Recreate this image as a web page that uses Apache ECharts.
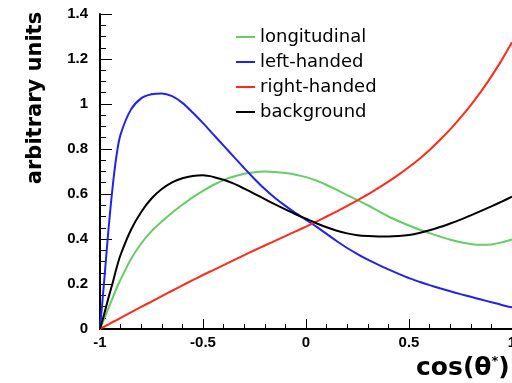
<!DOCTYPE html>
<html style="height: 100%">
<head>
  <meta charset="utf-8">
  <title>cos(theta*) distributions</title>
  <style type="text/css">
    body { margin: 0; background: #fff; }
    #container { width: 512px; height: 383px; }
  </style>
</head>
<body>
  <div id="container"></div>
  <script type="text/javascript" src="https://cdn.jsdelivr.net/npm/echarts@6/dist/echarts.min.js"></script>
  <script type="text/javascript">
    // cos(theta*) sample points (denser near -1 where curves rise fast)
    var cosTheta = [-1, -0.98, -0.96, -0.94, -0.92, -0.9, -0.85, -0.8, -0.75, -0.7, -0.65, -0.6, -0.55, -0.5,
      -0.45, -0.4, -0.35, -0.3, -0.25, -0.2, -0.15, -0.1, -0.05, 0,
      0.05, 0.1, 0.15, 0.2, 0.25, 0.3, 0.35, 0.4, 0.45, 0.5,
      0.55, 0.6, 0.65, 0.7, 0.75, 0.8, 0.85, 0.9, 0.95, 1];

    var longitudinal = [0, 0.045, 0.09, 0.135, 0.18, 0.22, 0.31, 0.38, 0.435, 0.478, 0.517, 0.552, 0.585, 0.614,
      0.64, 0.662, 0.678, 0.69, 0.697, 0.70, 0.698, 0.693, 0.686, 0.675,
      0.66, 0.64, 0.618, 0.595, 0.573, 0.55, 0.525, 0.50, 0.479, 0.46,
      0.442, 0.426, 0.411, 0.397, 0.386, 0.378, 0.374, 0.376, 0.385, 0.398];

    var leftHanded = [0, 0.21, 0.43, 0.62, 0.77, 0.865, 0.975, 1.025, 1.043, 1.047, 1.035, 1.005, 0.962, 0.915,
      0.865, 0.815, 0.765, 0.715, 0.667, 0.622, 0.582, 0.547, 0.515, 0.485,
      0.455, 0.423, 0.39, 0.36, 0.333, 0.308, 0.286, 0.265, 0.245, 0.226,
      0.21, 0.195, 0.181, 0.168, 0.155, 0.143, 0.131, 0.119, 0.107, 0.096];

    var rightHanded = [0, 0.01, 0.02, 0.03, 0.039, 0.049, 0.074, 0.098, 0.122, 0.146, 0.17, 0.194, 0.217, 0.24,
      0.262, 0.284, 0.306, 0.328, 0.35, 0.371, 0.392, 0.413, 0.434, 0.455,
      0.477, 0.50, 0.523, 0.547, 0.572, 0.598, 0.626, 0.655, 0.686, 0.72,
      0.756, 0.796, 0.84, 0.887, 0.939, 0.995, 1.056, 1.123, 1.195, 1.274];

    var background = [0, 0.065, 0.135, 0.2, 0.27, 0.33, 0.44, 0.52, 0.58, 0.622, 0.652, 0.67, 0.68, 0.683,
      0.676, 0.663, 0.646, 0.624, 0.601, 0.577, 0.554, 0.532, 0.51, 0.49,
      0.47, 0.452, 0.437, 0.425, 0.417, 0.413, 0.411, 0.411, 0.413, 0.418,
      0.427, 0.439, 0.453, 0.469, 0.486, 0.505, 0.525, 0.545, 0.566, 0.588];

    var seriesNames = ['longitudinal', 'left-handed', 'right-handed', 'background'];
    var seriesColors = ['#66cc66', '#2222ee', '#ff2a1a', '#000000'];
    var seriesValues = [longitudinal, leftHanded, rightHanded, background];

    function pairs(ys) {
      return cosTheta.map(function (x, i) { return [x, ys[i]]; });
    }

    var labelFont = { color: '#000', fontFamily: 'Liberation Sans', fontWeight: 'bold', fontSize: 15 };

    var chart = echarts.init(document.getElementById('container'));

    chart.setOption({
      animation: false,
      backgroundColor: '#fff',
      grid: { left: 100, right: 0, top: 14, bottom: 54, outerBoundsMode: 'none' },
      legend: {
        orient: 'vertical',
        left: 231,
        top: 23,
        icon: 'rect',
        itemWidth: 19,
        itemHeight: 2,
        itemGap: 7,
        data: seriesNames,
        textStyle: { color: '#000', fontFamily: 'DejaVu Sans', fontSize: 18 }
      },
      xAxis: [{
        type: 'value',
        min: -1,
        max: 1,
        interval: 0.5,
        axisLine: { onZero: false, lineStyle: { color: '#000', width: 2 } },
        axisTick: { inside: true, length: 10, lineStyle: { color: '#000' } },
        minorTick: { show: true, splitNumber: 5, length: 5, lineStyle: { color: '#000' } },
        splitLine: { show: false },
        axisLabel: Object.assign({ margin: 6 }, labelFont)
      }, {
        type: 'value',
        position: 'top',
        min: -1,
        max: 1,
        axisLine: { show: true, lineStyle: { color: '#000', width: 2 } },
        axisTick: { show: false },
        axisLabel: { show: false },
        splitLine: { show: false }
      }],
      yAxis: {
        type: 'value',
        min: 0,
        max: 1.4,
        interval: 0.2,
        axisLine: { show: true, onZero: false, lineStyle: { color: '#000', width: 2 } },
        axisTick: { show: true, inside: true, length: 12, lineStyle: { color: '#000' } },
        minorTick: { show: true, splitNumber: 4, length: 6, lineStyle: { color: '#000' } },
        splitLine: { show: false },
        axisLabel: Object.assign({ margin: 12 }, labelFont)
      },
      graphic: [{
        type: 'text',
        x: 36,
        y: 98,
        rotation: Math.PI / 2,
        style: {
          text: 'arbitrary units',
          fill: '#000',
          font: 'bold 21px "DejaVu Sans"',
          align: 'center',
          verticalAlign: 'middle'
        }
      }, {
        type: 'text',
        x: 416,
        y: 368,
        style: {
          text: '{a|cos(θ}{s|*}{a|)}',
          verticalAlign: 'middle',
          rich: {
            a: { fill: '#000', font: 'bold 25px "DejaVu Sans"' },
            s: { fill: '#000', font: 'bold 13px "DejaVu Sans"', verticalAlign: 'top', padding: [0, 0, 12, 0] }
          }
        }
      }],
      series: seriesNames.map(function (name, i) {
        return {
          name: name,
          type: 'line',
          smooth: 0.3,
          symbol: 'none',
          color: seriesColors[i],
          lineStyle: { width: 2 },
          data: pairs(seriesValues[i])
        };
      })
    });
  </script>
</body>
</html>
